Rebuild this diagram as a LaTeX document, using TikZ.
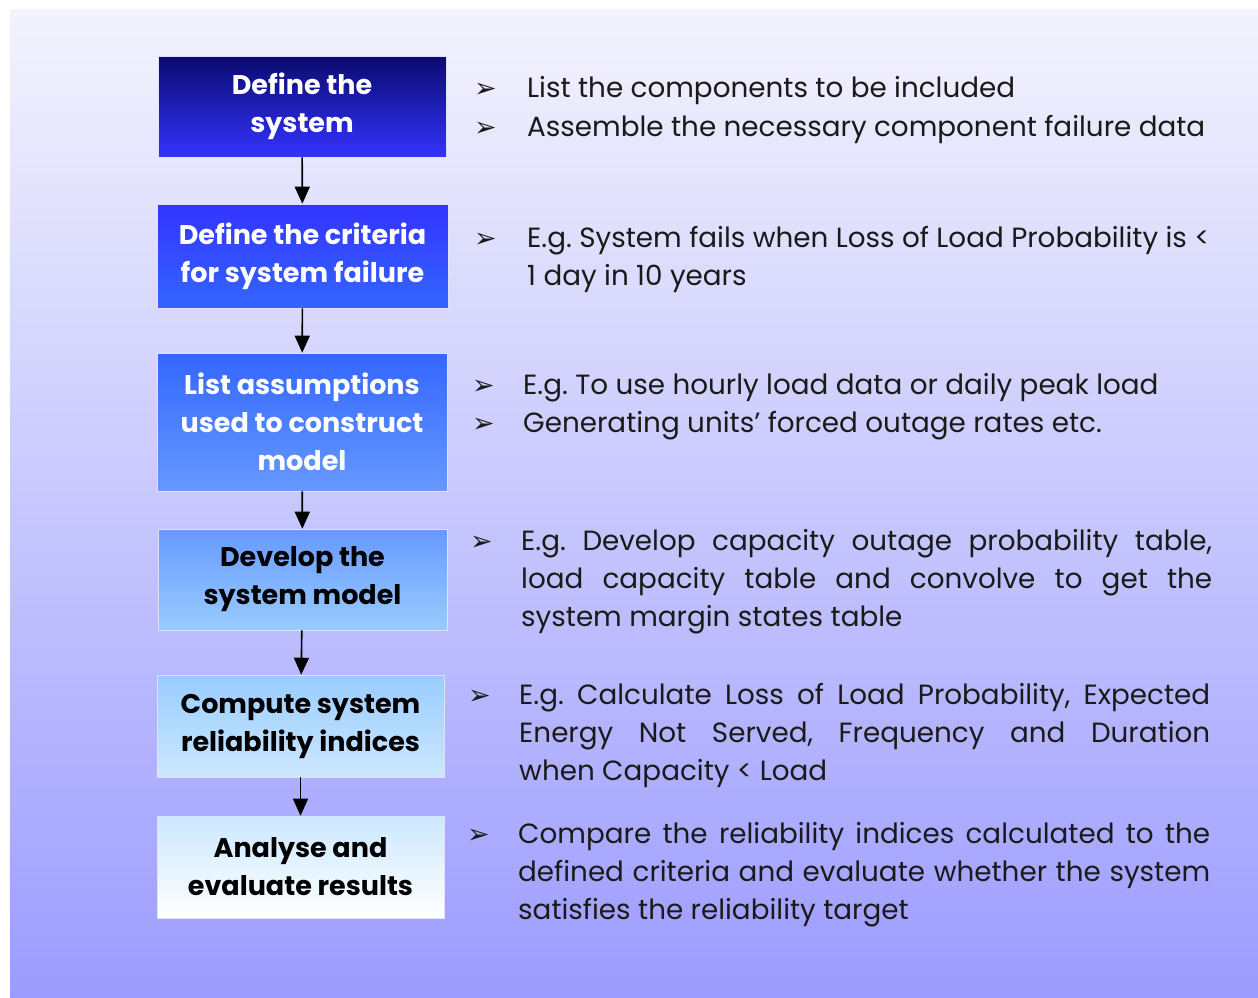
\documentclass[tikz,border=0pt]{standalone}
\usepackage{fontspec}
\setmainfont{Poppins}
\newfontfamily\symfont{DejaVu Sans}
\usetikzlibrary{arrows.meta}
\frenchspacing
\definecolor{bgtop}{HTML}{F3F3FD}
\definecolor{bgbot}{HTML}{9C9CFF}
\definecolor{ink}{HTML}{1A1A1A}
\tikzset{
	stepbox/.style={draw=white!70!blue!40, line width=0.6pt, inner sep=0pt, align=center,
		font=\fontsize{27}{38}\selectfont\bfseries},
	flow/.style={line width=1.6pt, -{Triangle[width=15pt,length=17pt]}},
	bullet/.style={anchor=base west, inner sep=0pt, text=ink, font=\symfont\fontsize{27}{27}\selectfont},
	item/.style={anchor=base west, inner sep=0pt, text=ink, font=\fontsize{27.8}{38}\selectfont},
	para/.style={item, text width=#1, align=justify}
}
\begin{document}
\begin{tikzpicture}[x=1pt,y=-1pt]
	\useasboundingbox (0,0) rectangle (1258,997);
	\fill[white] (0,0) rectangle (1258,997);
	\shade[top color=bgtop, bottom color=bgbot] (10,9) rectangle (1258,997);

	\node[stepbox, top color={rgb,255:red,10;green,10;blue,110}, bottom color={rgb,255:red,51;green,51;blue,255},
		text=white, minimum width=288pt, minimum height=101pt] (s1) at (302,106.5) {Define the\\system};
	\node[stepbox, top color={rgb,255:red,51;green,51;blue,255}, bottom color={rgb,255:red,51;green,102;blue,255},
		text=white, minimum width=291pt, minimum height=104pt] (s2) at (302.5,256) {Define the criteria\\for system failure};
	\node[stepbox, top color={rgb,255:red,51;green,102;blue,255}, bottom color={rgb,255:red,102;green,153;blue,255},
		text=white, minimum width=290pt, minimum height=138pt] (s3) at (302,422) {List assumptions\\used to construct\\model};
	\node[stepbox, top color={rgb,255:red,102;green,153;blue,255}, bottom color={rgb,255:red,153;green,204;blue,255},
		text=black, minimum width=289pt, minimum height=101pt] (s4) at (302.5,579.5) {Develop the\\system model};
	\node[stepbox, top color={rgb,255:red,153;green,204;blue,255}, bottom color={rgb,255:red,204;green,232;blue,255},
		text=black, minimum width=287pt, minimum height=102pt] (s5) at (300.5,726) {Compute system\\reliability indices};
	\node[stepbox, top color={rgb,255:red,204;green,232;blue,255}, bottom color=white,
		text=black, minimum width=287pt, minimum height=102pt] (s6) at (300.5,867) {Analyse and\\evaluate results};

	\draw[flow] (s1) -- (s2);
	\draw[flow] (s2) -- (s3);
	\draw[flow] (s3) -- (s4);
	\draw[flow] (s4) -- (s5);
	\draw[flow] (s5) -- (s6);

	\node[bullet] (b1a) at (474,97) {➢};
	\node[item] (t1a) at (527,97) {List the components to be included};
	\node[bullet] (b1b) at (474,136) {➢};
	\node[item] (t1b) at (527,136) {Assemble the necessary component failure data};

	\node[bullet] (b2) at (474,247) {➢};
	\node[item] (t2a) at (527,247) {E.g. System fails when Loss of Load Probability is <};
	\node[item] (t2b) at (527,285) {1 day in 10 years};

	\node[bullet] (b3a) at (472,394) {➢};
	\node[item] (t3a) at (523,394) {E.g. To use hourly load data or daily peak load};
	\node[bullet] (b3b) at (472,432) {➢};
	\node[item] (t3b) at (523,432) {Generating units’ forced outage rates etc.};

	\node[bullet] (b4) at (470,550) {➢};
	\node[para=691pt] (t4) at (521,550) {E.g. Develop capacity outage probability table,\linebreak load capacity table and convolve to get the\linebreak system margin states table};

	\node[bullet] (b5) at (468,704) {➢};
	\node[para=691pt] (t5) at (519,704) {E.g. Calculate Loss of Load Probability, Expected\linebreak Energy Not Served, Frequency and Duration\linebreak when Capacity < Load};

	\node[bullet] (b6) at (467,843) {➢};
	\node[para=692pt] (t6) at (518,843) {Compare the reliability indices calculated to the\linebreak defined criteria and evaluate whether the system\linebreak satisfies the reliability target};
\end{tikzpicture}
\end{document}
